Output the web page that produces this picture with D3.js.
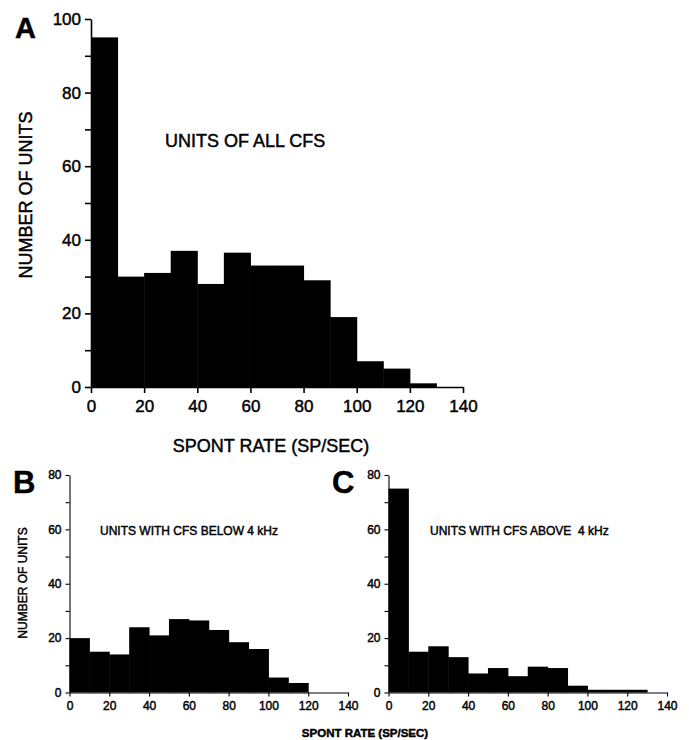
<!DOCTYPE html>
<html>
<head>
<meta charset="utf-8">
<script src="https://cdn.jsdelivr.net/npm/d3@7"></script>
<style>
    body { margin: 0; background: #fff; }
    text { font-family: "Liberation Sans", Arial, Helvetica, sans-serif; fill: #000; stroke: #000; stroke-width: 0.45px; }
    .axis path, .axis line { stroke: #000; }
    .bar { fill: #000; }
</style>
</head>
<body>
<script>
(function(){

    //bin starts of spont rate (sp/sec), each bin is 10 wide
    var binStarts = [0, 10, 20, 30, 40, 50, 60, 70, 80, 90, 100, 110, 120, 130];
    var binWidth = 10;

    //number of units per bin
    var unitsAll   = [95, 30, 31, 37, 28, 36.5, 33, 33, 29, 19, 7, 5, 1, 0];
    var unitsBelow = [20, 15, 14, 24, 21, 27, 26.5, 23, 18.5, 16, 5.5, 3.5, 0, 0];
    var unitsAbove = [75, 15, 17, 13, 7, 9, 6, 9.5, 9, 2.5, 1, 1, 1, 0];

    //tick labels
    var xTicks = [0, 20, 40, 60, 80, 100, 120, 140];
    var yTicksA = [0, 20, 40, 60, 80, 100];
    var yMinorA = [10, 30, 50, 70, 90];
    var yTicksBC = [0, 20, 40, 60, 80];
    var yMinorBC = [10, 30, 50, 70];

window.onload = setFigure();

function setFigure(){

    var width = 689,
        height = 740;

    var svg = d3.select("body")
        .append("svg")
        .attr("width", width)
        .attr("height", height);

    //panel A, all CFs
    setPanel(svg, {
        values: unitsAll,
        xRange: [91, 463],
        yRange: [387, 19],
        yMax: 100,
        yTicks: yTicksA,
        yMinor: yMinorA,
        tickFont: 17,
        tickLen: 6,
        stroke: 1.6
    });

    //panel B, CFs below 4 kHz
    setPanel(svg, {
        values: unitsBelow,
        xRange: [69.5, 348],
        yRange: [692.5, 475],
        yMax: 80,
        yTicks: yTicksBC,
        yMinor: yMinorBC,
        tickFont: 12,
        tickLen: 4,
        stroke: 1.1
    });

    //panel C, CFs above 4 kHz
    setPanel(svg, {
        values: unitsAbove,
        xRange: [388.5, 667],
        yRange: [692.5, 475],
        yMax: 80,
        yTicks: yTicksBC,
        yMinor: yMinorBC,
        tickFont: 12,
        tickLen: 4,
        stroke: 1.1
    });

    //panel letters
    addText(svg, "A", 15, 38, 29, "bold", "start");
    addText(svg, "B", 13, 493, 31, "bold", "start");
    addText(svg, "C", 332, 493, 31, "bold", "start");

    //panel A titles
    addText(svg, "UNITS OF ALL CFS", 165, 147, 18, "normal", "start");
    addText(svg, "SPONT RATE (SP/SEC)", 271, 452, 18, "normal", "middle");
    addText(svg, "NUMBER OF UNITS", 32, 195, 18, "normal", "middle")
        .attr("transform", "rotate(-90,32,195)");

    //panel B and C titles
    addText(svg, "UNITS WITH CFS BELOW 4 kHz", 100, 535, 12, "normal", "start");
    addText(svg, "UNITS WITH CFS ABOVE\u00a0\u00a04 kHz", 430, 535, 12, "normal", "start");
    addText(svg, "NUMBER OF UNITS", 27, 583, 12, "normal", "middle")
        .attr("transform", "rotate(-90,27,583)");
    addText(svg, "SPONT RATE (SP/SEC)", 365, 737, 11.5, "bold", "middle");
};

//draw one histogram with its axes
function setPanel(svg, p){
    var x = d3.scaleLinear()
        .domain([0, 140])
        .range(p.xRange);

    var y = d3.scaleLinear()
        .domain([0, p.yMax])
        .range(p.yRange);

    var g = svg.append("g");

    //bars, no gaps between bins
    g.selectAll(".bar")
        .data(binStarts)
        .enter()
        .append("rect")
        .attr("class", "bar")
        .attr("x", function(d){ return x(d); })
        .attr("width", function(d){ return x(d + binWidth) - x(d) + 0.5; })
        .attr("y", function(d, i){ return y(p.values[i]); })
        .attr("height", function(d, i){ return y(0) - y(p.values[i]); });

    //minor y ticks
    var yMinorAxis = g.append("g")
        .attr("class", "axis")
        .attr("transform", "translate(" + p.xRange[0] + ",0)")
        .call(d3.axisLeft(y)
            .tickValues(p.yMinor)
            .tickSize(p.tickLen)
            .tickSizeOuter(0)
            .tickFormat(""));
    yMinorAxis.select(".domain").remove();

    //major y axis
    var yAxis = g.append("g")
        .attr("class", "axis")
        .attr("transform", "translate(" + p.xRange[0] + ",0)")
        .call(d3.axisLeft(y)
            .tickValues(p.yTicks)
            .tickSize(p.tickLen)
            .tickSizeOuter(0)
            .tickPadding(4));

    //x axis
    var xAxis = g.append("g")
        .attr("class", "axis")
        .attr("transform", "translate(0," + p.yRange[0] + ")")
        .call(d3.axisBottom(x)
            .tickValues(xTicks)
            .tickSize(p.tickLen)
            .tickSizeOuter(0)
            .tickPadding(p.tickLen + 1));

    [yMinorAxis, yAxis, xAxis].forEach(function(a){
        a.selectAll("path, line").attr("stroke-width", p.stroke);
        a.selectAll("text")
            .style("font-size", p.tickFont + "px")
            .attr("fill", "#000");
    });
};

//plain text helper
function addText(svg, str, x, y, size, weight, anchor){
    return svg.append("text")
        .attr("x", x)
        .attr("y", y)
        .attr("text-anchor", anchor)
        .style("font-size", size + "px")
        .style("font-weight", weight)
        .style("white-space", "pre")
        .text(str);
};

})();
</script>
</body>
</html>
